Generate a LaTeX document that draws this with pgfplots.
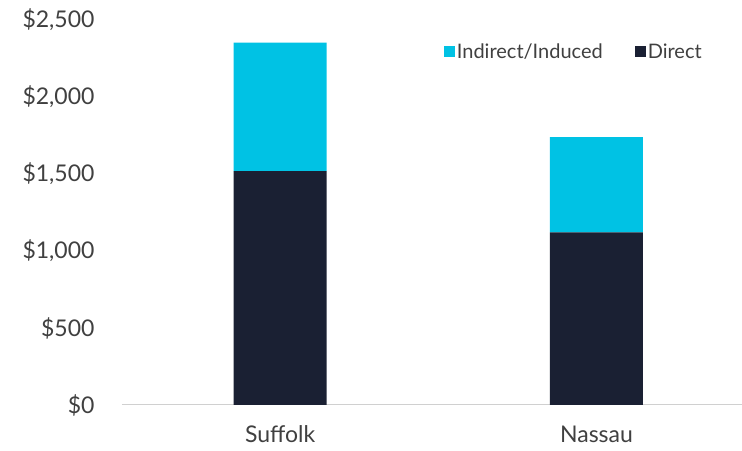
\documentclass[border=0pt]{standalone}
\usepackage{pgfplots}
\pgfplotsset{compat=1.18}
\usepackage{fontspec}
\setmainfont{Lato}
\definecolor{navy}{HTML}{1A2033}
\definecolor{cyanbar}{HTML}{00C2E4}
\definecolor{txt}{HTML}{404040}
\definecolor{axisgray}{HTML}{D0D0D0}

\begin{document}
\begin{tikzpicture}
\begin{axis}[
    scale only axis,
    width=620pt, height=385pt,
    ybar stacked,
    bar width=93pt,
    xmin=-0.5, xmax=1.46,
    ymin=0, ymax=2500,
    xtick={0,1},
    xticklabels={Suffolk,Nassau},
    ytick={0,500,1000,1500,2000,2500},
    yticklabels={{\$0},{\$500},{\$1,000},{\$1,500},{\$2,000},{\$2,500}},
    axis x line*=bottom,
    axis y line*=left,
    x axis line style={axisgray, line width=1pt, -},
    y axis line style={draw=none},
    major tick length=0pt,
    tick style={draw=none},
    ticklabel style={font=\fontsize{23}{27}\selectfont, text=txt},
    xticklabel style={yshift=-17pt},
    yticklabel style={xshift=-24pt},
    legend columns=2,
    reverse legend,
    legend style={draw=none, fill=none, at={(0.514,0.917)}, anchor=west,
        font=\fontsize{20}{24}\selectfont, text=txt,
        /tikz/every even column/.append style={column sep=30pt}},
    legend image code/.code={\fill[#1] (0pt,-5.5pt) rectangle (11pt,5.5pt);},
    clip=false,
]
\addplot+[fill=navy, draw=none] coordinates {(0,1519) (1,1121)};
\addlegendentry{Direct}
\addplot+[fill=cyanbar, draw=none] coordinates {(0,834) (1,619)};
\addlegendentry{Indirect/Induced}
\end{axis}
\pgfresetboundingbox
\path[use as bounding box] ([xshift=-122pt,yshift=-46pt]current axis.south west) rectangle ([yshift=20pt]current axis.north east);
\end{tikzpicture}
\end{document}
